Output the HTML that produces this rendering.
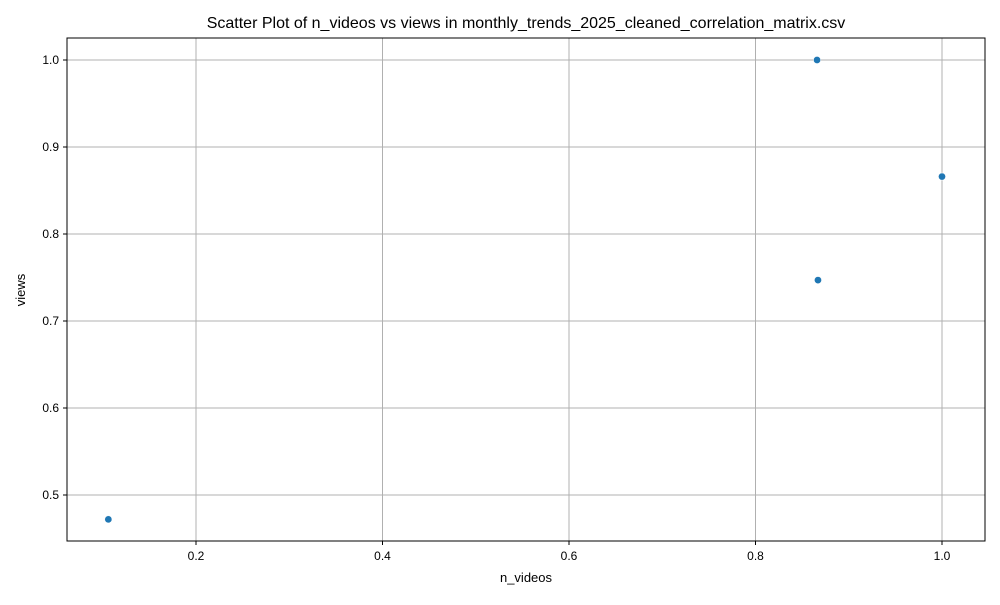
<!DOCTYPE html>
<html><head><meta charset="utf-8"><style>
body{margin:0;background:#fff;font-family:"Liberation Sans","DejaVu Sans",sans-serif;}
svg text{font-family:"Liberation Sans","DejaVu Sans",sans-serif;}
</style></head><body>
<svg id="chart" width="1000" height="600" xmlns="http://www.w3.org/2000/svg">
<rect width="1000" height="600" fill="#fff"/>
<text x="526" y="28" font-size="16" text-anchor="middle">Scatter Plot of n_videos vs views in monthly_trends_2025_cleaned_correlation_matrix.csv</text>
<g id="grid"></g>
<g id="points"></g>
<rect x="67" y="38" width="918" height="503" fill="none" stroke="#000" stroke-width="1"/>
<g id="ticks"></g>
<text x="526" y="582" font-size="13" text-anchor="middle">n_videos</text>
<text x="25" y="290" font-size="13" text-anchor="middle" transform="rotate(-90 25 290)">views</text>
</svg>
<script>
const nVideos = [0.866, 1.0, 0.867, 0.106];
const views = [1.0, 0.866, 0.747, 0.472];
const xTicks = [0.2, 0.4, 0.6, 0.8, 1.0];
const yTicks = [0.5, 0.6, 0.7, 0.8, 0.9, 1.0];
const xTickLabels = ["0.2", "0.4", "0.6", "0.8", "1.0"];
const yTickLabels = ["0.5", "0.6", "0.7", "0.8", "0.9", "1.0"];

const L = 67, R = 985, T = 38, B = 541;
function xs(v){ return 196 + (v - 0.2) * 932.5; }
function ys(v){ return 60 + (1.0 - v) * 870; }
const NS = "http://www.w3.org/2000/svg";
const grid = document.getElementById('grid');
const ticks = document.getElementById('ticks');
const pts = document.getElementById('points');
function mk(tag, attrs, parent){ const e = document.createElementNS(NS, tag); for (const k in attrs) e.setAttribute(k, attrs[k]); parent.appendChild(e); return e; }

xTicks.forEach((v, i) => {
  const x = xs(v);
  const g = mk('line', {x1:x, x2:x, y1:T, y2:B, stroke:'#b0b0b0', 'stroke-width':1}, grid);
  
  
  const t = mk('line', {x1:x, x2:x, y1:B, y2:B+4, stroke:'#000'}, ticks);
  
  
  const l = mk('text', {x:x, y:B+19, 'font-size':12, 'text-anchor':'middle'}, ticks);
  l.textContent = xTickLabels[i];
  
  
});
yTicks.forEach((v, i) => {
  const y = ys(v);
  const g = mk('line', {x1:L, x2:R, y1:y, y2:y, stroke:'#b0b0b0', 'stroke-width':1}, grid);
  
  
  const t = mk('line', {x1:L-4, x2:L, y1:y, y2:y, stroke:'#000'}, ticks);
  
  
  const l = mk('text', {x:L-8, y:y+4, 'font-size':12, 'text-anchor':'end'}, ticks);
  l.textContent = yTickLabels[i];
  
  
});
nVideos.forEach((v, i) => {
  const c = mk('circle', {cx:xs(v), cy:ys(views[i]), r:3.6, fill:'#1f77b4', stroke:'#fff', 'stroke-width':0.5}, pts);
  
  
});
</script>
</body></html>
